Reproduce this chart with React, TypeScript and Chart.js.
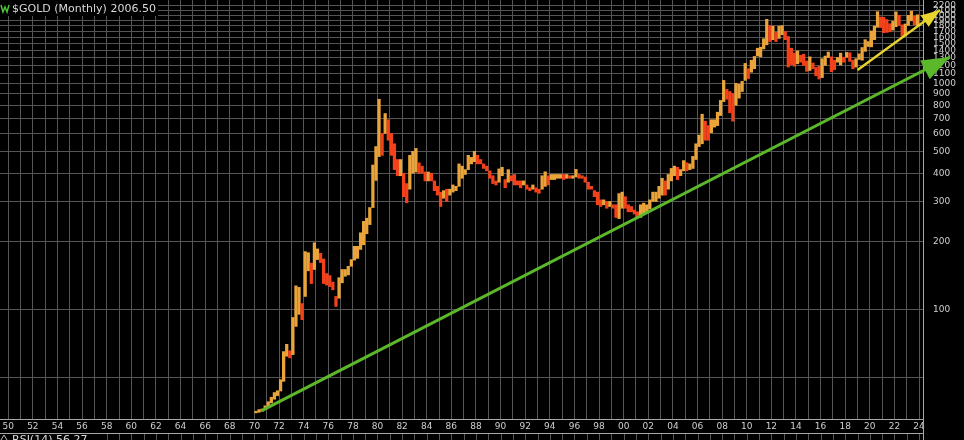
import React, { useEffect, useRef } from "react";
import { Chart, registerables } from "chart.js";

Chart.register(...registerables);

const TITLE = "$GOLD (Monthly) 2006.50";
const LOWER_PANEL_TITLE = "RSI(14) 56.27";

// quarterly price ranges, 1970 Q1 .. 2023 Q4
const firstYear = 1970;
const goldLow: number[] = [
  34.8, 35.0, 35.4, 36.0,
  37.4, 38.5, 40.0, 41.5,
  43.5, 48.0, 62.0, 61.0,
  63.0, 84.0, 95.0, 90.0,
  114, 148, 130, 150,
  166, 161, 130, 128,
  126, 122, 103, 112,
  131, 140, 142, 155,
  165, 168, 184, 193,
  216, 237, 282, 372,
  474, 480, 600, 560,
  480, 415, 390, 390,
  315, 296, 340, 400,
  405, 400, 400, 370,
  370, 370, 335, 320,
  285, 310, 300, 320,
  330, 335, 350, 380,
  395, 415, 440, 450,
  440, 440, 420, 410,
  380, 360, 355, 365,
  390, 345, 365, 370,
  355, 355, 345, 355,
  340, 335, 340, 330,
  326, 340, 350, 355,
  375, 375, 380, 380,
  375, 380, 380, 380,
  385, 380, 380, 365,
  340, 340, 315, 290,
  285, 290, 280, 285,
  280, 255, 252, 280,
  280, 270, 270, 264,
  255, 255, 265, 270,
  278, 300, 300, 310,
  320, 320, 340, 370,
  390, 375, 390, 410,
  410, 415, 420, 460,
  525, 540, 560, 560,
  605, 640, 650, 720,
  830, 850, 740, 680,
  800, 860, 920, 1030,
  1050, 1120, 1160, 1320,
  1310, 1420, 1480, 1530,
  1560, 1530, 1580, 1640,
  1560, 1180, 1210, 1190,
  1220, 1240, 1200, 1130,
  1140, 1160, 1080, 1045,
  1060, 1200, 1300, 1125,
  1150, 1240, 1205, 1240,
  1305, 1250, 1160, 1180,
  1275, 1265, 1385, 1455,
  1450, 1560, 1770, 1765,
  1675, 1680, 1690, 1720,
  1780, 1805, 1615, 1620,
  1805, 1890, 1815, 1810,
];
const goldHigh: number[] = [
  35.4, 36.0, 36.2, 37.4,
  39.0, 40.8, 42.8, 43.6,
  48.8, 65.0, 70.0, 65.5,
  92.0, 127, 125, 106,
  180, 178, 160, 197,
  185, 177, 167, 144,
  141, 132, 114, 138,
  150, 150, 155, 166,
  190, 190, 218, 245,
  253, 282, 435, 525,
  850, 600, 735, 690,
  600, 540, 460, 460,
  400, 360, 480, 500,
  515, 445, 430, 405,
  405, 400, 370, 350,
  330, 335, 340, 340,
  355, 350, 440, 430,
  415, 480, 470, 500,
  480, 460, 440, 430,
  410, 390, 370, 418,
  425, 375, 415, 390,
  395, 370, 370, 370,
  355, 345, 355, 345,
  340, 390, 406, 390,
  395, 395, 395, 395,
  395, 395, 390, 390,
  416, 395, 390, 385,
  365, 350, 335, 330,
  305, 305, 300, 300,
  290, 290, 325, 330,
  315, 290, 285, 275,
  270, 290, 295, 290,
  305, 330, 330, 350,
  380, 370, 395, 420,
  430, 425, 415, 455,
  445, 440, 475, 540,
  590, 730, 680, 650,
  690, 690, 745, 840,
  1030, 940, 920, 900,
  1000, 990, 1020, 1225,
  1160, 1265, 1315, 1430,
  1445, 1575, 1920, 1800,
  1790, 1680, 1790, 1800,
  1695, 1610, 1430, 1360,
  1390, 1330, 1345, 1255,
  1310, 1230, 1175, 1190,
  1285, 1320, 1375, 1310,
  1265, 1300, 1360, 1305,
  1370, 1365, 1265, 1285,
  1350, 1440, 1560, 1530,
  1705, 1790, 2075, 1965,
  1960, 1915, 1835, 1880,
  2070, 2000, 1815, 1830,
  2000, 2085, 1980, 2010,
];

// trend lines (year, price) — start and arrow tip
const greenTrendYears = [1970.6, 2026.5];
const greenTrendPrices = [35.6, 1307];
const yellowTrendYears = [2019.0, 2025.7];
const yellowTrendPrices = [1145, 2110];

// axes
const xTickYears: number[] = [];
for (let y = 1950; y <= 2024; y++) xTickYears.push(y);
const yGridValues = [50, 100, 200, 300, 400, 500, 600, 700, 800, 900, 1000, 1100, 1200, 1300, 1400, 1500, 1600, 1700, 1800, 1900, 2000, 2100, 2200];
const yLabelValues = [100, 200, 300, 400, 500, 600, 700, 800, 900, 1000, 1100, 1200, 1300, 1400, 1500, 1600, 1700, 1800, 1900, 2000, 2100, 2200];
const xMin = 1949.33;
const xMax = 2024.32;
const yMin = 32.7;
const yMax = 2337;

const UP = "#e9a43c";
const DOWN = "#f2411b";
const GREEN = "#5cb82b";
const YELLOW = "#e8d42c";
const GRID = "#555555";
const BORDER = "#a8a8a8";
const TEXT = "#cfcfcf";

export default function App() {
  const ref = useRef<HTMLCanvasElement | null>(null);

  useEffect(() => {
    document.body.style.margin = "0";
    document.body.style.background = "#000";
    const canvas = ref.current!;

    const priceData = goldLow.map((lo, i) => ({ x: firstYear + i * 0.25 + 0.125, y: [lo, goldHigh[i]] }));
    const colors = goldLow.map((lo, i) => {
      if (i === 0) return UP;
      const mid = (lo + goldHigh[i]) / 2;
      const prev = (goldLow[i - 1] + goldHigh[i - 1]) / 2;
      return mid >= prev ? UP : DOWN;
    });

    const arrowSpec: Record<number, { len: number; half: number; color: string }> = {
      1: { len: 28, half: 10.5, color: GREEN },
      2: { len: 19, half: 7, color: YELLOW },
    };

    const bgPlugin = {
      id: "bg",
      beforeDraw(chart: any) {
        const c = chart.ctx;
        c.save();
        c.fillStyle = "#000";
        c.fillRect(0, 0, chart.width, chart.height);
        c.restore();
      },
    };

    const decoPlugin = {
      id: "deco",
      afterDatasetsDraw(chart: any) {
        const c = chart.ctx;
        Object.keys(arrowSpec).forEach((k) => {
          const idx = Number(k);
          const meta = chart.getDatasetMeta(idx);
          const pts = meta.data;
          if (!pts || pts.length < 2) return;
          const a = pts[pts.length - 2];
          const b = pts[pts.length - 1];
          const dx = b.x - a.x;
          const dy = b.y - a.y;
          const d = Math.hypot(dx, dy);
          const ux = dx / d;
          const uy = dy / d;
          const spec = arrowSpec[idx];
          const bx = b.x - ux * spec.len;
          const by = b.y - uy * spec.len;
          c.save();
          c.fillStyle = spec.color;
          c.beginPath();
          c.moveTo(b.x, b.y);
          c.lineTo(bx - uy * spec.half, by + ux * spec.half);
          c.lineTo(bx + uy * spec.half, by - ux * spec.half);
          c.closePath();
          c.fill();
          c.restore();
        });
      },
      afterDraw(chart: any) {
        const c = chart.ctx;
        const area = chart.chartArea;
        const xs = chart.scales.x;
        c.save();
        c.fillStyle = "#000";
        c.fillRect(0, 0, 158, 16);
        c.strokeStyle = "#4fc43a";
        c.lineWidth = 1.5;
        c.beginPath();
        c.moveTo(1, 5);
        c.lineTo(3, 12);
        c.lineTo(5, 7);
        c.lineTo(7, 12);
        c.lineTo(9, 5);
        c.stroke();
        c.fillStyle = "#d9d9d9";
        c.font = "11px 'DejaVu Sans'";
        c.textBaseline = "middle";
        c.textAlign = "left";
        c.fillText(TITLE, 12, 9);

        const panelTop = 433.5;
        c.strokeStyle = GRID;
        c.lineWidth = 1;
        xTickYears.forEach((yr) => {
          const px = Math.round(xs.getPixelForValue(yr)) + 0.5;
          c.beginPath();
          c.moveTo(px, panelTop);
          c.lineTo(px, chart.height);
          c.stroke();
        });
        c.strokeStyle = BORDER;
        c.beginPath();
        c.moveTo(0, panelTop);
        c.lineTo(area.right, panelTop);
        c.stroke();
        c.beginPath();
        c.moveTo(area.right + 0.5, area.bottom);
        c.lineTo(area.right + 0.5, chart.height);
        c.stroke();
        c.fillStyle = "#000";
        c.fillRect(0, 434, 100, 6);
        c.strokeStyle = "#bbbbbb";
        c.beginPath();
        c.moveTo(1, 440);
        c.lineTo(4, 435);
        c.lineTo(7, 440);
        c.stroke();
        c.fillStyle = "#d9d9d9";
        c.textBaseline = "top";
        c.fillText(LOWER_PANEL_TITLE, 12, 435);
        c.restore();
      },
    };

    const chart = new Chart(canvas, {
      type: "bar",
      data: {
        datasets: [
          {
            type: "bar",
            data: priceData as any,
            backgroundColor: colors,
            borderWidth: 0,
            barThickness: 2.6,
            grouped: false,
            order: 2,
          } as any,
          {
            type: "line",
            data: greenTrendYears.map((x, i) => ({ x, y: greenTrendPrices[i] })),
            borderColor: GREEN,
            borderWidth: 3,
            pointRadius: 0,
            clip: false,
            order: 1,
          } as any,
          {
            type: "line",
            data: yellowTrendYears.map((x, i) => ({ x, y: yellowTrendPrices[i] })),
            borderColor: YELLOW,
            borderWidth: 2.4,
            pointRadius: 0,
            clip: false,
            order: 0,
          } as any,
        ],
      },
      options: {
        responsive: false,
        animation: false,
        layout: { padding: 0 },
        plugins: {
          legend: { display: false },
          tooltip: { enabled: false },
          title: { display: false },
        },
        scales: {
          x: {
            type: "linear",
            position: "bottom",
            min: xMin,
            max: xMax,
            offset: false,
            grid: { color: GRID, offset: false, drawTicks: false, lineWidth: 1 },
            border: { color: BORDER, width: 1 },
            ticks: {
              autoSkip: false,
              maxRotation: 0,
              minRotation: 0,
              padding: 2,
              color: TEXT,
              font: { family: "'DejaVu Sans'", size: 9 },
              callback: (v: any) => (Number(v) % 2 === 0 ? String(v).slice(2) : ""),
            },
            afterBuildTicks: (scale: any) => {
              scale.ticks = xTickYears.map((v) => ({ value: v }));
            },
            afterFit: (scale: any) => {
              scale.height = 21;
              scale.paddingLeft = 0;
              scale.paddingRight = 0;
            },
          } as any,
          y: {
            type: "logarithmic",
            position: "right",
            min: yMin,
            max: yMax,
            grid: { color: GRID, drawTicks: false, lineWidth: 1 },
            border: { color: BORDER, width: 1 },
            ticks: {
              autoSkip: false,
              padding: 10,
              color: TEXT,
              font: { family: "'DejaVu Sans'", size: 9 },
              callback: (v: any) => (yLabelValues.includes(Number(v)) ? String(v) : ""),
            },
            afterBuildTicks: (scale: any) => {
              scale.ticks = yGridValues.map((v) => ({ value: v }));
            },
            afterFit: (scale: any) => {
              scale.width = 41;
              scale.paddingTop = 0;
              scale.paddingBottom = 0;
            },
          } as any,
        },
      },
      plugins: [bgPlugin, decoPlugin],
    });

    return () => chart.destroy();
  }, []);

  return (
    <div style={{ width: 964, height: 440, background: "#000" }}>
      <canvas ref={ref} width={964} height={440} style={{ display: "block" }} />
    </div>
  );
}
